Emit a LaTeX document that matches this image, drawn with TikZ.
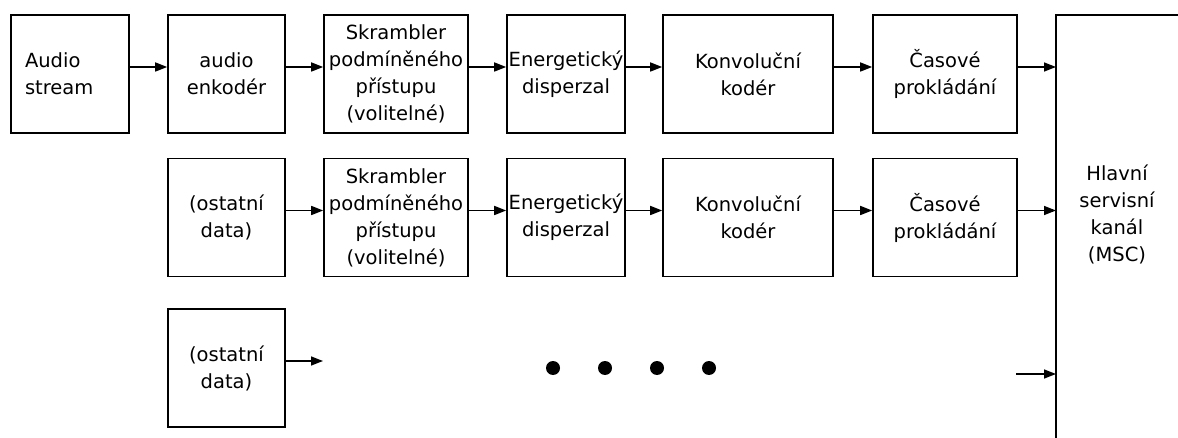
\documentclass[tikz,border=0pt]{standalone}
\usepackage{fontspec}
\setmainfont{DejaVu Sans}
\usetikzlibrary{arrows.meta}

\tikzset{
	blok/.style = {draw, line width = 1.6pt, minimum height = 118pt, inner sep = 0pt, align = center},
	sipka/.style = {line width = 1.5pt, -{Triangle[length = 12pt, width = 9pt]}},
	tecka/.style = {circle, fill, inner sep = 0pt, minimum size = 14pt}
}

\begin{document}
\begin{tikzpicture}[x = 1pt, y = -1pt, font = \fontsize{19.5pt}{27pt}\selectfont]
		\useasboundingbox (0, 0) rectangle (1178, 438);
		%%%%%%%%%%%%% prvni radek
		\node [blok, minimum width = 118pt, text width = 90pt, align = left] (a1) at (70, 74) {Audio\\stream};
		\node [blok, minimum width = 117pt] (a2) at (226.5, 74) {audio\\enkodér};
		\node [blok, minimum width = 144pt] (a3) at (396, 74) {Skrambler\\podmíněného\\přístupu\\(volitelné)};
		\node [blok, minimum width = 118pt] (a4) at (566, 74) {Energetický\\disperzal};
		\node [blok, minimum width = 170pt] (a5) at (748, 74) {Konvoluční\\kodér};
		\node [blok, minimum width = 144pt] (a6) at (945, 74) {Časové\\prokládání};
		%%%%%%%%%%%%% druhy radek
		\node [blok, minimum width = 117pt] (b2) at (226.5, 217.5) {(ostatní\\data)};
		\node [blok, minimum width = 144pt] (b3) at (396, 217.5) {Skrambler\\podmíněného\\přístupu\\(volitelné)};
		\node [blok, minimum width = 118pt] (b4) at (566, 217.5) {Energetický\\disperzal};
		\node [blok, minimum width = 170pt] (b5) at (748, 217.5) {Konvoluční\\kodér};
		\node [blok, minimum width = 144pt] (b6) at (945, 217.5) {Časové\\prokládání};
		%%%%%%%%%%%%% treti radek
		\node [blok, minimum width = 117pt] (c2) at (226.5, 368) {(ostatní\\data)};
		\coordinate (c2out) at (323, 361);
		\node [tecka] (d1) at (553, 368) {}; \node [tecka] (d2) at (605, 368) {};
		\node [tecka] (d3) at (657, 368) {}; \node [tecka] (d4) at (709, 368) {};
		\coordinate (volny) at (1016, 374);
		%%%%%%%%%%%%% hlavni servisni kanal
		\coordinate (msc) at (1056, 15);
		\node [align = center] (msctext) at (1117, 214) {Hlavní\\servisní\\kanál\\(MSC)};
		\draw [line width = 1.6pt] (1178, 15) -- (msc) -- (msc |- 0, 438);
		%%%%%%%%%%%%%
		\draw [sipka] ([yshift = 7pt]a1.east) -- ([yshift = 7pt]a2.west); \draw [sipka] ([yshift = 7pt]a2.east) -- ([yshift = 7pt]a3.west);
		\draw [sipka] ([yshift = 7pt]a3.east) -- ([yshift = 7pt]a4.west); \draw [sipka] ([yshift = 7pt]a4.east) -- ([yshift = 7pt]a5.west);
		\draw [sipka] ([yshift = 7pt]a5.east) -- ([yshift = 7pt]a6.west); \draw [sipka] ([yshift = 7pt]a6.east) -- ([yshift = 7pt]a6.east -| msc);
		\draw [sipka] ([yshift = 7pt]b2.east) -- ([yshift = 7pt]b3.west); \draw [sipka] ([yshift = 7pt]b3.east) -- ([yshift = 7pt]b4.west);
		\draw [sipka] ([yshift = 7pt]b4.east) -- ([yshift = 7pt]b5.west); \draw [sipka] ([yshift = 7pt]b5.east) -- ([yshift = 7pt]b6.west);
		\draw [sipka] ([yshift = 7pt]b6.east) -- ([yshift = 7pt]b6.east -| msc);
		\draw [sipka] ([yshift = 7pt]c2.east) -- (c2out);
		\draw [sipka] (volny) -- (volny -| msc);
\end{tikzpicture}
\end{document}
